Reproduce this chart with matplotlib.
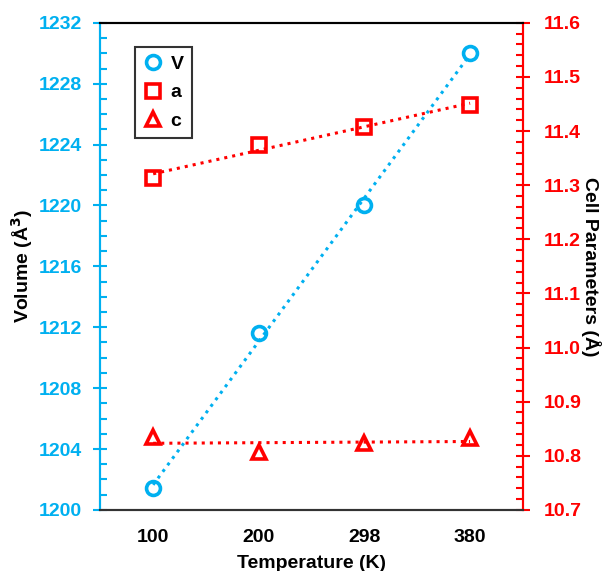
import numpy as np
import matplotlib.pyplot as plt
from matplotlib.ticker import MultipleLocator

plt.rcParams['font.family'] = ['Liberation Sans', 'DejaVu Sans']
plt.rcParams['font.weight'] = 'bold'

# данные
temps = ['100', '200', '298', '380']
volume = [1201.45, 1211.6, 1220.05, 1230.05]
a_par = [11.314, 11.375, 11.408, 11.448]
c_par = [10.835, 10.807, 10.824, 10.833]

blue = '#00B0F0'
red = '#FF0000'

fig, ax = plt.subplots(figsize=(6.08, 5.71), dpi=100)
fig.subplots_adjust(left=0.165, right=0.860, top=0.960, bottom=0.107)
ax2 = ax.twinx()

x = np.arange(len(temps))

# линейные тренды (как в Excel)
def trend(vals):
    k, b = np.polyfit(x, vals, 1)
    return k * x + b

ax.plot(x, trend(volume), ':', color=blue, lw=2.2, zorder=2)
hV, = ax.plot(x, volume, 'o', ls='none', mfc='none', mec=blue, mew=2.6, ms=10, label='V', zorder=3)

ax2.plot(x, trend(a_par), ':', color=red, lw=2.2)
ha, = ax2.plot(x, a_par, 's', ls='none', mfc='none', mec=red, mew=2.6, ms=10, label='a')
ax2.plot(x, trend(c_par), ':', color=red, lw=2.2)
hc, = ax2.plot(x, c_par, '^', ls='none', mfc='none', mec=red, mew=2.6, ms=10, label='c')

ax.set_xlim(-0.5, 3.5)
ax.set_xticks(x)
ax.set_xticklabels(temps)
ax.tick_params(axis='x', length=0, labelsize=14, pad=14)

ax.set_ylim(1200, 1232)
ax.yaxis.set_major_locator(MultipleLocator(4))
ax.yaxis.set_minor_locator(MultipleLocator(1))
ax.tick_params(axis='y', which='major', direction='inout', length=10, width=1.5, colors=blue, labelsize=14, pad=8)
ax.tick_params(axis='y', which='minor', direction='in', length=5, width=1.5, colors=blue)

ax2.set_ylim(10.7, 11.6)
ax2.yaxis.set_major_locator(MultipleLocator(0.1))
ax2.yaxis.set_minor_locator(MultipleLocator(0.02))
ax2.yaxis.set_major_formatter(plt.FormatStrFormatter('%.1f'))
ax2.tick_params(axis='y', which='major', direction='inout', length=10, width=1.5, colors=red, labelsize=14, pad=10)
ax2.tick_params(axis='y', which='minor', direction='in', length=5, width=1.5, colors=red)

for a_ in (ax, ax2):
    a_.spines['left'].set_color(blue)
    a_.spines['left'].set_linewidth(1.5)
    a_.spines['right'].set_color(red)
    a_.spines['right'].set_linewidth(1.5)
    a_.spines['top'].set_color('black')
    a_.spines['top'].set_linewidth(1.5)
    a_.spines['bottom'].set_color('#333333')
    a_.spines['bottom'].set_linewidth(1.5)

ax.set_xlabel('Temperature (K)', fontsize=14, fontweight='bold', labelpad=6)
ax.set_ylabel('Volume (Å$^3$)', fontsize=14, fontweight='bold', labelpad=3)
ax2.set_ylabel('Cell Parameters (Å)', fontsize=14, fontweight='bold', rotation=270, labelpad=14)

leg = ax2.legend(handles=[hV, ha, hc], loc='upper left', bbox_to_anchor=(0.083, 0.951),
                 borderaxespad=0, fontsize=14, frameon=True, fancybox=False, edgecolor='black',
                 handlelength=0.9, handletextpad=0.45, borderpad=0.45, labelspacing=0.55)
leg.get_frame().set_linewidth(1.5)

fig.savefig('out.png', dpi=100)
